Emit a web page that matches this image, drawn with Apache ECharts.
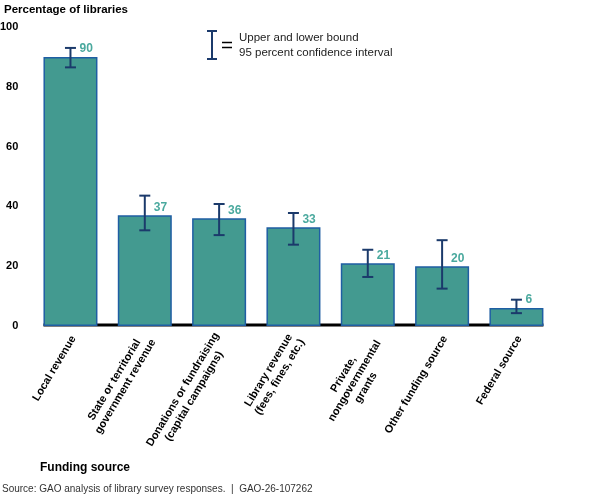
<!DOCTYPE html>
<html>
<head>
<meta charset="utf-8">
<script src="https://cdn.jsdelivr.net/npm/echarts@6/dist/echarts.min.js"></script>
<style>
html,body{margin:0;padding:0;background:#fff;}
#c{width:599px;height:500px;}
</style>
</head>
<body>
<div id="c"></div>
<script>
const categories = [
  'Local revenue',
  'State or territorial\ngovernment revenue',
  'Donations or fundraising\n(capital campaigns)',
  'Library revenue\n(fees, fines, etc.)',
  'Private,\nnongovernmental\ngrants',
  'Other funding source',
  'Federal source'
];
const values = [90, 37, 36, 33, 21, 20, 6];
const lowerBound = [86.5, 32, 30.4, 27.2, 16.4, 12.5, 4.3];
const upperBound = [93, 43.6, 40.8, 37.8, 25.5, 28.7, 8.8];
const yTicks = [0, 20, 40, 60, 80, 100];

const FONT = 'Liberation Sans, Arial, sans-serif';
const BAR_W = 54;
const NAVY = '#1b3a6b';

const chart = echarts.init(document.getElementById('c'), null, {renderer: 'canvas'});

const errData = categories.map((c, i) => [i, lowerBound[i], upperBound[i]]);
const catItems = categories.map(c => {
  const n = c.split('\n').length;
  return n > 2 ? {value: c, textStyle: {padding: [25, 0, 0, 0]}} : c;
});

const option = {
  animation: false,
  backgroundColor: '#ffffff',
  textStyle: {fontFamily: FONT},
  grid: {left: 33.3, right: 45.4, top: 27, bottom: 174, containLabel: false, outerBoundsMode: 'none'},
  xAxis: {
    type: 'category',
    data: catItems,
    axisLine: {show: false},
    axisTick: {show: false},
    axisLabel: {
      interval: 0,
      rotate: 59,
      margin: 9,
      padding: [7, 0, 0, 0],
      color: '#000',
      fontFamily: FONT,
      fontWeight: 'bold',
      fontSize: 11,
      formatter: function (v) {
        return v.split('\n').map(s => '{c|' + s + '}').join('\n');
      },
      rich: {
        c: {align: 'center', fontFamily: FONT, fontWeight: 'bold', fontSize: 11, lineHeight: 13, color: '#000'}
      }
    }
  },
  yAxis: {
    type: 'value',
    min: yTicks[0],
    max: yTicks[yTicks.length - 1],
    interval: 20,
    axisLine: {show: false},
    axisTick: {show: false},
    splitLine: {show: false},
    axisLabel: {
      margin: 15,
      color: '#000',
      fontFamily: FONT,
      fontWeight: 'bold',
      fontSize: 11
    }
  },
  series: [
    {
      type: 'bar',
      data: values,
      barWidth: BAR_W,
      z: 2,
      itemStyle: {color: '#439a90', borderColor: '#1f5ea3', borderWidth: 1.5},
      label: {
        show: true,
        position: ['50%', 0],
        offset: [9, -8],
        align: 'left',
        verticalAlign: 'middle',
        color: '#4aa99e',
        fontFamily: FONT,
        fontWeight: 'bold',
        fontSize: 12
      }
    },
    {
      type: 'custom',
      z: 3,
      data: errData,
      encode: {x: 0, y: [1, 2]},
      renderItem: function (params, api) {
        const x = api.value(0);
        const lo = api.coord([x, api.value(1)]);
        const hi = api.coord([x, api.value(2)]);
        const hw = 5.5;
        const st = {stroke: NAVY, lineWidth: 2};
        return {
          type: 'group',
          children: [
            {type: 'line', shape: {x1: lo[0], y1: lo[1], x2: hi[0], y2: hi[1]}, style: st},
            {type: 'line', shape: {x1: hi[0] - hw, y1: hi[1], x2: hi[0] + hw, y2: hi[1]}, style: st},
            {type: 'line', shape: {x1: lo[0] - hw, y1: lo[1], x2: lo[0] + hw, y2: lo[1]}, style: st}
          ]
        };
      }
    }
  ],
  graphic: [
    {type: 'text', left: 4, top: 4, style: {text: 'Percentage of libraries', fontFamily: FONT, fontWeight: 'bold', fontSize: 11.5, fill: '#000'}},
    {type: 'text', left: 40, top: 462, style: {text: 'Funding source', fontFamily: FONT, fontWeight: 'bold', fontSize: 12, fill: '#000'}},
    {type: 'text', left: 2, top: 484, style: {text: 'Source: GAO analysis of library survey responses.  |  GAO-26-107262', fontFamily: FONT, fontSize: 10, fill: '#333'}},
    {type: 'line', shape: {x1: 212, y1: 31, x2: 212, y2: 59}, style: {stroke: NAVY, lineWidth: 2}},
    {type: 'line', shape: {x1: 207, y1: 31, x2: 217, y2: 31}, style: {stroke: NAVY, lineWidth: 2}},
    {type: 'line', shape: {x1: 207, y1: 59, x2: 217, y2: 59}, style: {stroke: NAVY, lineWidth: 2}},
    {type: 'line', shape: {x1: 222, y1: 42.5, x2: 232, y2: 42.5}, style: {stroke: '#000', lineWidth: 1.5}},
    {type: 'line', shape: {x1: 222, y1: 47.5, x2: 232, y2: 47.5}, style: {stroke: '#000', lineWidth: 1.5}},
    {type: 'text', left: 239, top: 30, style: {text: 'Upper and lower bound\n95 percent confidence interval', fontFamily: FONT, fontSize: 11.5, lineHeight: 15, fill: '#222'}}
  ]
};

chart.setOption(option);

// Baseline spanning from first bar's left edge to last bar's right edge
const c0 = chart.convertToPixel({xAxisIndex: 0}, 0);
const cN = chart.convertToPixel({xAxisIndex: 0}, categories.length - 1);
const y0 = chart.convertToPixel({yAxisIndex: 0}, 0);
const g = option.graphic.slice();
g.push({type: 'line', z: 0, shape: {x1: c0 - BAR_W / 2, y1: y0 - 1, x2: cN + BAR_W / 2, y2: y0 - 1}, style: {stroke: '#000', lineWidth: 3}});
chart.setOption({graphic: g}, {replaceMerge: ['graphic']});
</script>
</body>
</html>
